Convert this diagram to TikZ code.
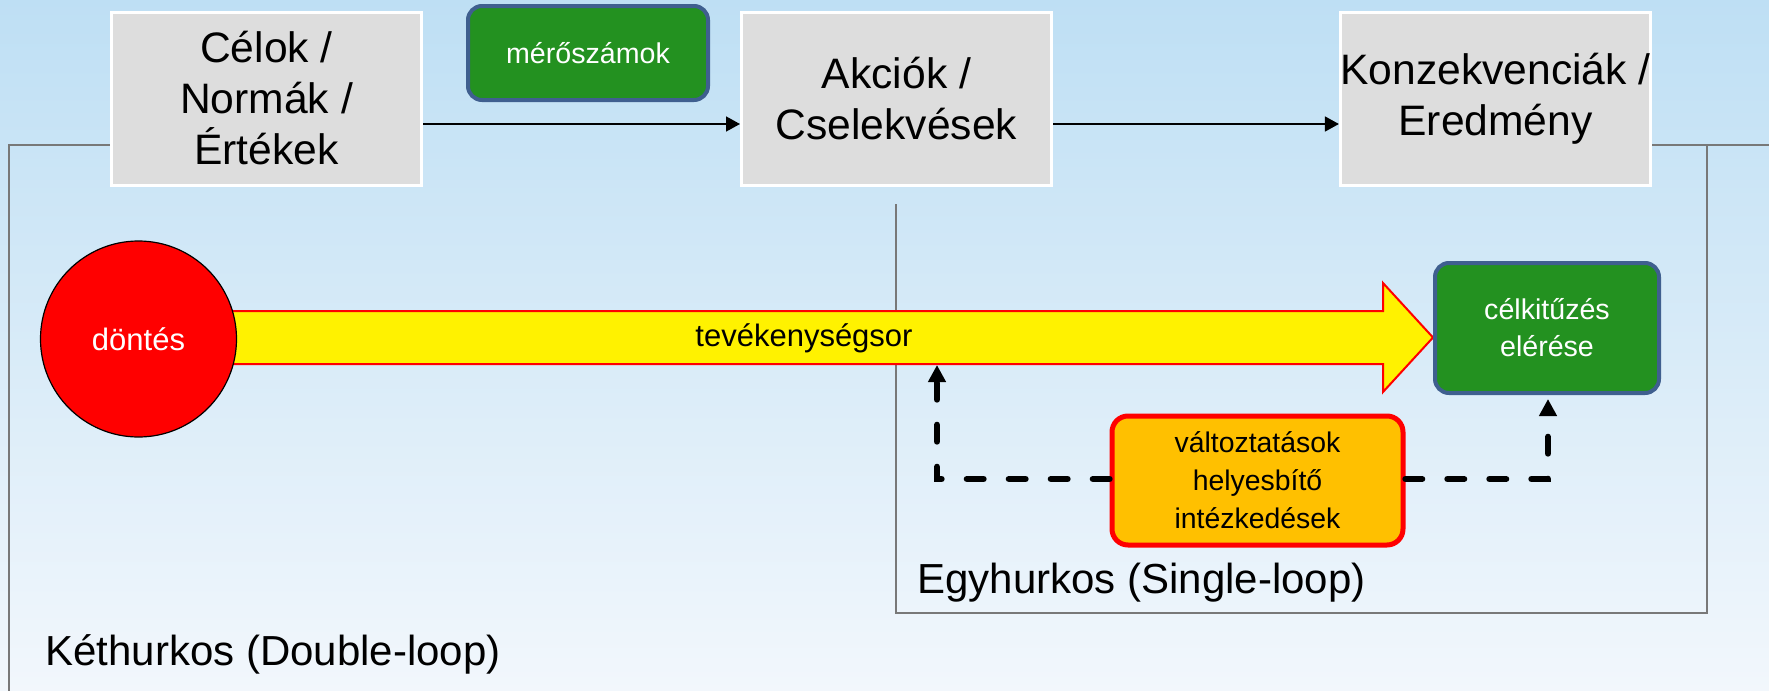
\documentclass[tikz,border=0pt]{standalone}
\usepackage{fontspec}
\setmainfont{Liberation Sans}
\usetikzlibrary{arrows.meta,calc}
\definecolor{bgtop}{RGB}{190,223,244}
\definecolor{bgbot}{RGB}{242,247,252}
\definecolor{boxgray}{RGB}{221,221,221}
\definecolor{grnfill}{RGB}{35,145,32}
\definecolor{grnedge}{RGB}{63,95,143}
\definecolor{orfill}{RGB}{255,192,0}
\definecolor{loopgray}{RGB}{120,120,120}
\tikzset{
  graybox/.style={draw=white, line width=1.5pt, fill=boxgray, minimum width=155pt, minimum height=86.5pt, align=center, inner sep=0pt, font=\fontsize{21.3}{25.5}\selectfont},
  greenbox/.style={draw=grnedge, line width=2pt, fill=grnfill, rounded corners=7pt, align=center, inner sep=0pt, text=white, font=\fontsize{14.3}{18.5}\selectfont},
  orangebox/.style={draw=red, line width=2.5pt, fill=orfill, rounded corners=8pt, align=center, inner sep=0pt, font=\fontsize{14.2}{19}\selectfont},
  flowarrow/.style={draw=black, line width=0.8pt, -{Triangle[length=7pt,width=7.5pt]}},
  dasharrow/.style={draw=black, line width=3.2pt, line cap=round, dash pattern=on 8.3pt off 12.7pt, -{Triangle[length=8.5pt,width=8.5pt]}},
  loopline/.style={draw=loopgray, line width=0.7pt},
  looplabel/.style={anchor=base west, inner sep=0pt, font=\fontsize{21}{25}\selectfont},
}
\begin{document}
\begin{tikzpicture}[x=0.5pt,y=-0.5pt]
\useasboundingbox (0,0) rectangle (1769,691);
\shade[top color=bgtop, bottom color=bgbot] (0,0) rectangle (1769,691);

% loop frames
\coordinate (dlA) at (111,145);
\coordinate (dlB) at (9,145);
\coordinate (dlC) at (9,700);
\coordinate (dlD) at (1650,145);
\coordinate (dlE) at (1780,145);
\coordinate (slA) at (896,204);
\coordinate (slB) at (896,613);
\coordinate (slC) at (1707,613);
\coordinate (slD) at (1707,145);
\draw[loopline] (dlA) -- (dlB) -- (dlC);
\draw[loopline] (dlD) -- (dlE);
\draw[loopline] (slA) -- (slB) -- (slC) -- (slD);

% top boxes
\node[graybox] (celok) at (266.5,98.5) {Célok /\\Normák /\\Értékek};
\node[graybox] (akcio) at (896.5,98.5) {Akciók /\\Cselekvések};
\node[graybox] (konz) at (1495.5,98.5) {Konzekvenciák /\\Eredmény};
\node[greenbox, minimum width=120pt, minimum height=47pt] (meroszam) at (588,53) {mérőszámok};

\draw[flowarrow] (celok.east |- 0,124) -- (akcio.west |- 0,124);
\draw[flowarrow] (akcio.east |- 0,124) -- (konz.west |- 0,124);

% yellow arrow
\draw[draw=red, line width=1pt, fill=yellow] (138,311) -- (1383,311) -- (1383,283) -- (1433,337.5) -- (1383,392) -- (1383,364) -- (138,364) -- cycle;
\node[font=\fontsize{15.5}{18}\selectfont, inner sep=0pt] (tev) at (804,338) {tevékenységsor};
\coordinate (armbot) at (937,365);

% decision circle
\node[circle, draw=black, line width=0.6pt, fill=red, minimum size=98pt, inner sep=0pt, text=white, font=\fontsize{15.5}{18}\selectfont] (dontes) at (138.5,339) {döntés};

% goal box
\node[greenbox, minimum width=112pt, minimum height=65pt] (celk) at (1547,328) {célkitűzés\\elérése};

% corrections box
\node[orangebox, minimum width=145.5pt, minimum height=64.5pt] (valt) at (1257.5,480.5) {változtatások\\helyesbítő\\intézkedések};

\draw[dasharrow] (valt.west |- 0,479) -| (armbot);
\draw[dasharrow] (valt.east |- 0,479) -| ($(celk.south)+(1,4)$);

% labels
\node[looplabel] (single) at (917,593) {Egyhurkos (Single-loop)};
\node[looplabel] (double) at (45,665) {Kéthurkos (Double-loop)};
\end{tikzpicture}
\end{document}
